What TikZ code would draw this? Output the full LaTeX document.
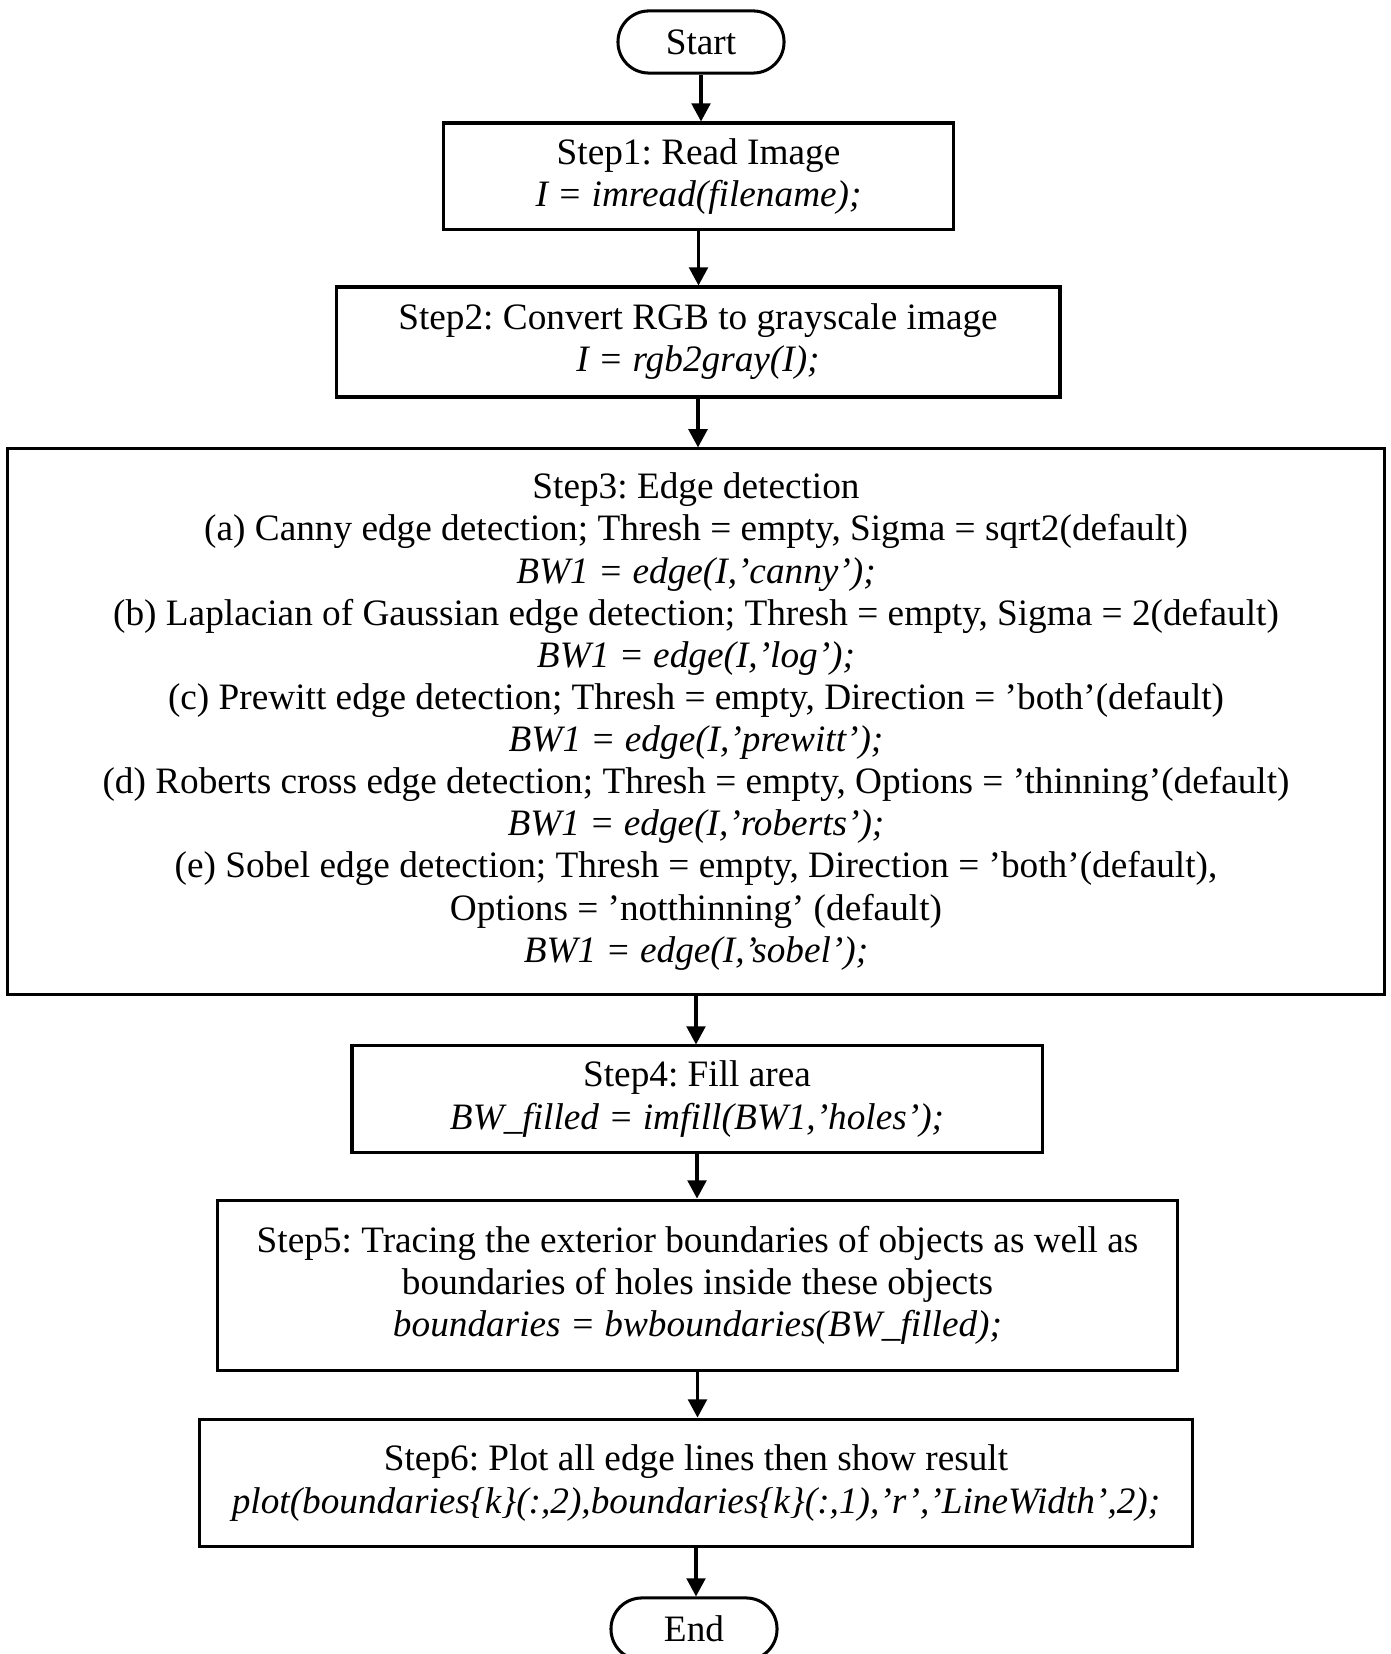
\documentclass[tikz,border=0pt]{standalone}
\usepackage{fontspec}
\setmainfont{Liberation Serif}
\usetikzlibrary{arrows.meta}
\frenchspacing

\begin{document}
\begin{tikzpicture}[x=0.33pt, y=-0.33pt,
			stepbox/.style={draw=black, line width=1pt, align=center, inner sep=0pt,
				font=\fontsize{12.3}{13.9}\selectfont},
			term/.style={stepbox, rounded corners=10.2pt, minimum width=54.8pt, minimum height=20.5pt},
			flow/.style={-{Triangle[width=6.2pt,length=6pt]}, line width=1pt}]

			\useasboundingbox (0,0) rectangle (1390,1654);

			\node[term] (start) at (701,42) {Start};
			\node[stepbox, minimum width=168.6pt, minimum height=35.3pt] (read) at (698.5,176.5)
				{Step1: Read Image\\ \textit{I = imread(filename);}};
			\node[stepbox, minimum width=238.9pt, minimum height=36.3pt] (gray) at (698,342)
				{Step2: Convert RGB to grayscale image\\ \textit{I = rgb2gray(I);}};
			\node[stepbox, minimum width=454.1pt, minimum height=179.9pt] (edge) at (696,721.5)
				{Step3: Edge detection\\
				(a) Canny edge detection; Thresh = empty, Sigma = sqrt2(default)\\
				\textit{BW1 = edge(I,’canny’);}\\
				(b) Laplacian of Gaussian edge detection; Thresh = empty, Sigma = 2(default)\\
				\textit{BW1 = edge(I,’log’);}\\
				(c) Prewitt edge detection; Thresh = empty, Direction = ’both’(default)\\
				\textit{BW1 = edge(I,’prewitt’);}\\
				(d) Roberts cross edge detection; Thresh = empty, Options = ’thinning’(default)\\
				\textit{BW1 = edge(I,’roberts’);}\\
				(e) Sobel edge detection; Thresh = empty, Direction = ’both’(default),\\
				Options = ’notthinning’ (default)\\
				\textit{BW1 = edge(I,’sobel’);}};
			\node[stepbox, minimum width=227.7pt, minimum height=35pt] (fill) at (697,1099)
				{Step4: Fill area\\ \textit{BW\_filled = imfill(BW1,’holes’);}};
			\node[stepbox, minimum width=317.1pt, minimum height=56.4pt] (trace) at (697.5,1285.5)
				{Step5: Tracing the exterior boundaries of objects as well as\\
				boundaries of holes inside these objects\\
				\textit{boundaries = bwboundaries(BW\_filled);}};
			\node[stepbox, minimum width=327.4pt, minimum height=42.2pt] (plot) at (696,1483)
				{Step6: Plot all edge lines then show result\\
				\textit{plot(boundaries\{k\}(:,2),boundaries\{k\}(:,1),’r’,’LineWidth’,2);}};
			\node[term] (end) at (694,1629) {End};

			\draw[flow] (start.south) -- (start.south |- read.north);
			\draw[flow] (read.south) -- (read.south |- gray.north);
			\draw[flow] (gray.south) -- (gray.south |- edge.north);
			\draw[flow] (edge.south) -- (edge.south |- fill.north);
			\draw[flow] (fill.south) -- (fill.south |- trace.north);
			\draw[flow] (trace.south) -- (trace.south |- plot.north);
			\draw[flow] (plot.south) -- (plot.south |- end.north);
		\end{tikzpicture}
\end{document}
